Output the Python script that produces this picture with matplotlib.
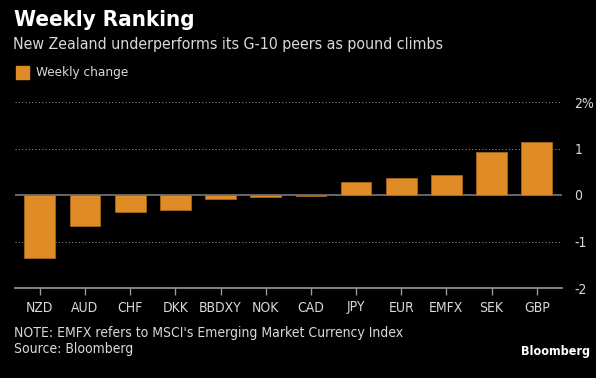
import matplotlib.pyplot as plt
import matplotlib.patches as mpatches
from matplotlib import font_manager

currencies = ["NZD", "AUD", "CHF", "DKK", "BBDXY", "NOK", "CAD", "JPY", "EUR", "EMFX", "SEK", "GBP"]
weekly_change = [-1.36, -0.67, -0.37, -0.33, -0.08, -0.04, -0.015, 0.27, 0.37, 0.43, 0.92, 1.14]
y_ticks = [-2, -1, 0, 1, 2]
y_labels = ["-2", "-1", "0", "1", "2%"]

# look for a narrow face, Bloomberg text is condensed
narrow = [f for f in font_manager.fontManager.ttflist
          if ("Narrow" in f.name or "Condensed" in f.name or f.stretch in ("condensed", "semi-condensed"))
          and f.weight in (400, "normal", "regular")]
font = narrow[0].name if narrow else "DejaVu Sans"
plt.rcParams['font.family'] = [font, 'DejaVu Sans']
plt.rcParams['font.stretch'] = "condensed"

bar_color = "#e08c26"
text_color = "#d9d9d9"

fig = plt.figure(figsize=(5.96, 3.78), dpi=100, facecolor="black")
ax = fig.add_axes([15 / 596, 1 - 288 / 378, (562 - 15) / 596, (288 - 102) / 378])
ax.set_facecolor("black")

x = list(range(len(currencies)))
ax.bar(x, weekly_change, width=0.68, color=bar_color, edgecolor="#a8641a", linewidth=0.6, zorder=3)

ax.set_xlim(-0.55, 11.56)
ax.set_ylim(-2, 2)
for v in [-1, 1, 2]:
    ax.axhline(v, color="#888888", linestyle=(0, (1, 2)), linewidth=0.8, zorder=1)
ax.axhline(0, color="#777777", linewidth=1.2, zorder=2)

for s in ["top", "right", "left"]:
    ax.spines[s].set_visible(False)
ax.spines["bottom"].set_color("#999999")
ax.spines["bottom"].set_linewidth(1.2)

ax.set_xticks(x)
ax.set_xticklabels(currencies)
ax.tick_params(axis="x", colors="#999999", length=5, width=1, labelcolor=text_color, labelsize=10, pad=4)
ax.yaxis.tick_right()
ax.set_yticks(y_ticks)
ax.set_yticklabels(y_labels)
ax.tick_params(axis="y", length=0, labelcolor=text_color, labelsize=10, pad=9)

fig.text(14 / 596, 1 - 20.5 / 378, "Weekly Ranking", color="white", fontsize=16, fontweight="bold", va="center")
fig.text(13 / 596, 1 - 45 / 378, "New Zealand underperforms its G-10 peers as pound climbs",
         color=text_color, fontsize=11.4, va="center")
fig.patches.append(mpatches.Rectangle((16 / 596, 1 - 79 / 378), 13 / 596, 13 / 378,
                                      transform=fig.transFigure, color=bar_color))
fig.text(36 / 596, 1 - 72.5 / 378, "Weekly change", color=text_color, fontsize=9.7, va="center")

fig.text(14 / 596, 1 - 333 / 378, "NOTE: EMFX refers to MSCI's Emerging Market Currency Index",
         color=text_color, fontsize=10, va="center")
fig.text(14 / 596, 1 - 349 / 378, "Source: Bloomberg", color=text_color, fontsize=10, va="center")
fig.text(590 / 596, 1 - 352 / 378, "Bloomberg", color="white", fontsize=9, fontweight="heavy",
         ha="right", va="center", family="DejaVu Sans")

fig.savefig("out.png", dpi=100, facecolor="black")
